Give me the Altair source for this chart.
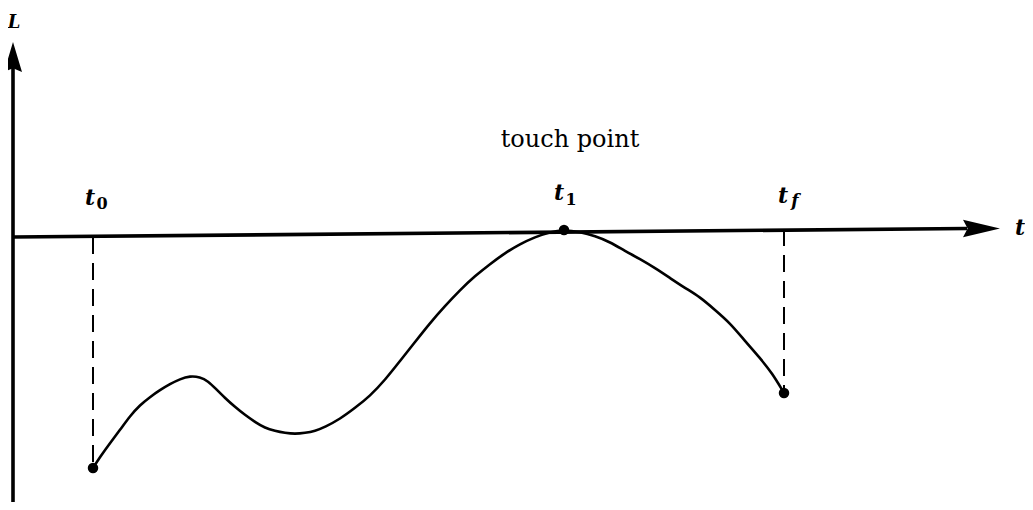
import altair as alt
import pandas as pd

# Curve L(t) (t measured from the vertical axis, L from the horizontal axis)
curve_t = [80, 87, 97, 107, 117, 127, 137, 147, 157, 167, 177, 187, 195, 203, 212, 222,
           232, 242, 252, 262, 272, 282, 292, 302, 312, 327, 342, 357, 372, 387, 402,
           417, 432, 447, 462, 477, 492, 507, 522, 537, 551, 567, 582, 597, 612, 627,
           642, 657, 672, 687, 702, 717, 732, 747, 759, 771]
curve_L = [-232, -221, -207, -194, -180, -169, -161, -154, -148, -143, -140, -141, -145, -153, -162, -171,
           -179, -186, -192, -195, -197, -198, -197, -195, -191, -183, -172, -160, -144, -125, -106,
           -87, -70, -54, -40, -28, -17, -8, -1, 4, 6, 4, 0, -6, -15, -23,
           -32, -42, -52, -61, -74, -87, -105, -122, -137, -157]

# Marked points t0, t1 (touch point), tf
dot_t = [80, 551, 771]
dot_L = [-232, 6, -157]

# Dashed drop lines at t0 and tf
drop_t = [80, 771]
drop_top = [-1, 7]
drop_bot = [-232, -157]

# Axis lines
axis_t = [0, 0]
axis_t2 = [0, 954]
axis_L = [-272, -1]
axis_L2 = [172, 7.5]

# Labels
main_text = ["t", "t", "t", "t"]
main_t = [77, 546, 770, 1007]
main_L = [31, 36, 33, 1]
axis_label = ["L"]
axis_label_t = [1]
axis_label_L = [208]
digit_text = ["0", "1"]
digit_t = [89, 558]
digit_L = [27, 31]
f_text = ["f"]
f_t = [782]
f_L = [30]
note_text = ["touch point"]
note_t = [557]
note_L = [89]

xs = alt.Scale(domain=[-5, 1012], nice=False, zero=False)
ys = alt.Scale(domain=[-266, 228], nice=False, zero=False)
X = lambda f: alt.X(f, type="quantitative", scale=xs, axis=None)
Y = lambda f: alt.Y(f, type="quantitative", scale=ys, axis=None)


def text_layer(ts, ls, txt, **kw):
    return alt.Chart(pd.DataFrame({"t": ts, "L": ls, "txt": txt})).mark_text(
        align="center", baseline="alphabetic", color="black", **kw
    ).encode(x=X("t"), y=Y("L"), text="txt")


curve = alt.Chart(pd.DataFrame({"t": curve_t, "L": curve_L})).mark_line(
    interpolate="basis", color="black", strokeWidth=2.6
).encode(x=X("t"), y=Y("L"))

drops = alt.Chart(pd.DataFrame({"t": drop_t, "L": drop_top, "L2": drop_bot})).mark_rule(
    color="black", strokeWidth=2, strokeDash=[17, 9]
).encode(x=X("t"), y=Y("L"), y2="L2")

axes = alt.Chart(pd.DataFrame({"t": axis_t, "t2": axis_t2, "L": axis_L, "L2": axis_L2})).mark_rule(
    color="black", strokeWidth=3.6
).encode(x=X("t"), x2="t2", y=Y("L"), y2="L2")

arrow_up = alt.Chart(pd.DataFrame({"t": [0], "L": [179]})).mark_point(
    shape="M0,-1 L0.6,1 L0,0.75 L-0.6,1 Z", size=900, filled=True, color="black", opacity=1
).encode(x=X("t"), y=Y("L"))

arrow_right = alt.Chart(pd.DataFrame({"t": [968.5], "L": [7.5]})).mark_point(
    shape="M1,0 L-1,-0.47 L-0.75,0 L-1,0.47 Z", size=1369, filled=True, color="black", opacity=1
).encode(x=X("t"), y=Y("L"))

dots = alt.Chart(pd.DataFrame({"t": dot_t, "L": dot_L})).mark_circle(
    size=110, color="black", opacity=1
).encode(x=X("t"), y=Y("L"))

mains = text_layer(main_t, main_L, main_text, font="DejaVu Serif", fontSize=22,
                   fontWeight="bold", fontStyle="italic")
lab = text_layer(axis_label_t, axis_label_L, axis_label, font="DejaVu Serif", fontSize=18,
                 fontWeight="bold", fontStyle="italic")
digits = text_layer(digit_t, digit_L, digit_text, font="DejaVu Serif", fontSize=16,
                    fontWeight="bold")
fsub = text_layer(f_t, f_L, f_text, font="DejaVu Serif", fontSize=17,
                  fontWeight="bold", fontStyle="italic")
note = text_layer(note_t, note_L, note_text, font="DejaVu Serif", fontSize=24)

chart = alt.layer(drops, axes, arrow_up, arrow_right, curve, dots,
                  mains, lab, digits, fsub, note).properties(
    width=1017, height=494, padding=0, autosize=alt.AutoSizeParams(type="none"),
    background="white"
).configure_view(stroke=None)

chart.save("out.html", embed_options={"renderer": "svg", "actions": False})
